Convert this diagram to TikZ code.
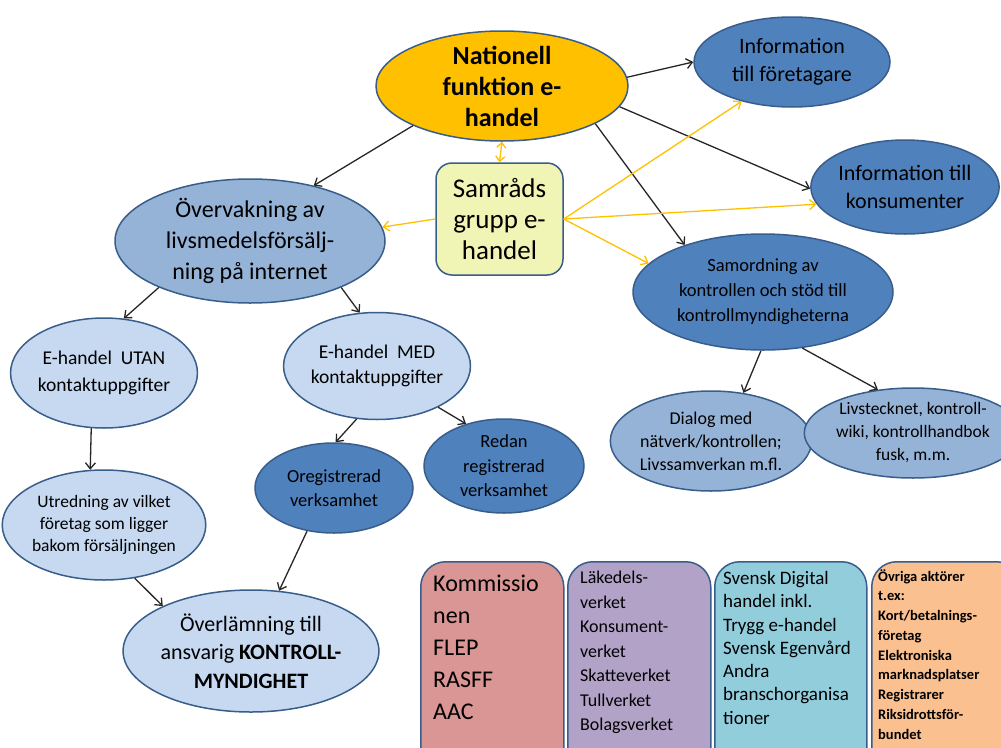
\documentclass[tikz,border=0pt]{standalone}
\usepackage{fontspec}
\setmainfont{Carlito}
\usetikzlibrary{shapes.geometric,arrows.meta}
\definecolor{orng}{HTML}{FFC000}
\definecolor{dblue}{HTML}{4F81BD}
\definecolor{mblue}{HTML}{95B3D7}
\definecolor{lblue}{HTML}{C6D9F1}
\definecolor{bord}{HTML}{385D8A}
\definecolor{pyell}{RGB}{240,244,180}
\definecolor{komm}{HTML}{D99694}
\definecolor{lila}{HTML}{B3A2C7}
\definecolor{cyan2}{HTML}{92CDDC}
\definecolor{peach}{HTML}{FAC090}
\begin{document}
\begin{tikzpicture}[x=1pt,y=-1pt,
  ell/.style={ellipse,draw=bord,line width=1.5pt,inner sep=0pt,align=center,text=black},
  con/.style={draw=black!85,line width=1.3pt,-{Straight Barb[length=6pt,width=10pt]}},
  ycon/.style={draw=orng,line width=1.3pt,-{Straight Barb[length=6pt,width=10pt]}},
  box/.style={draw=bord,line width=1.5pt,rounded corners=25pt,inner sep=0pt,anchor=north west},
  btext/.style={anchor=north west,inner sep=0pt,align=left,text=black}
]
\useasboundingbox (0,0) rectangle (1001,747);
\clip (0,0) rectangle (1001,747);

% ellipses
\node[ell,fill=orng,minimum width=252pt,minimum height=110pt] (nat) at (502,86) {};
\node[ell,fill=dblue,minimum width=196pt,minimum height=90pt,font=\fontsize{22}{28}\selectfont] (infoF) at (792,62) {Information\\till företagare};
\node[ell,fill=dblue,minimum width=188pt,minimum height=94pt,font=\fontsize{22}{28}\selectfont] (infoK) at (905,187) {Information till\\konsumenter};
\node[ell,fill=mblue,minimum width=270pt,minimum height=124pt,font=\fontsize{24}{31}\selectfont] (over) at (250,241) {Övervakning av\\livsmedelsförsälj-\\ning på internet};
\node[ell,fill=dblue,minimum width=260pt,minimum height=116pt,font=\fontsize{18.5}{25}\selectfont] (samo) at (763,292) {Samordning av\\kontrollen och stöd till\\kontrollmyndigheterna};
\node[ell,fill=lblue,minimum width=184pt,minimum height=110pt,font=\fontsize{19.5}{27}\selectfont] (utan) at (104,373) {E-handel\ \ UTAN\\kontaktuppgifter};
\node[ell,fill=lblue,minimum width=185pt,minimum height=107pt,font=\fontsize{19.5}{25}\selectfont] (med) at (377,366) {E-handel\ \ MED\\kontaktuppgifter};
\node[ell,fill=dblue,minimum width=158pt,minimum height=90pt,font=\fontsize{18.5}{24}\selectfont] (oreg) at (334,488) {Oregistrerad\\verksamhet};
\node[ell,fill=dblue,minimum width=160pt,minimum height=94pt,font=\fontsize{18.5}{24.5}\selectfont] (redan) at (504,466) {Redan\\registrerad\\verksamhet};
\node[ell,fill=lblue,minimum width=185pt,minimum height=110pt,font=\fontsize{17.5}{22}\selectfont] (utred) at (104,525) {Utredning av vilket\\företag som ligger\\bakom försäljningen};
\node[ell,fill=lblue,minimum width=232pt,minimum height=122pt,font=\fontsize{22}{28.5}\selectfont] (overl) at (251,651) {Överlämning till\\ansvarig \textbf{KONTROLL-}\\\textbf{MYNDIGHET}};
\node[ell,fill=mblue,minimum width=182pt,minimum height=100pt,font=\fontsize{18}{23}\selectfont] (dial) at (711,441) {Dialog med\\nätverk/kontrollen;\\Livssamverkan m.fl.};
\node[ell,fill=mblue,minimum width=176pt,minimum height=90pt,font=\fontsize{17.5}{23}\selectfont] (livs) at (913,433) {Livstecknet, kontroll-\\wiki, kontrollhandbok\\fusk, m.m.};

% Nationell text
\node[align=center,inner sep=0pt,font=\bfseries\fontsize{26}{31}\selectfont] (natT) at (nat.center) {Nationell\\funktion e-\\handel};

% Samrads box
\node[draw=bord,line width=1.5pt,fill=pyell,rounded corners=16pt,minimum width=127pt,minimum height=112pt,inner sep=0pt,align=center,font=\fontsize{27}{31}\selectfont] (samr) at (499.5,219) {Samråds\\grupp e-\\handel};

% bottom boxes
\node[box,fill=komm,minimum width=143pt,minimum height=230pt] (kbox) at (420,561) {};
\node[box,fill=lila,minimum width=143pt,minimum height=230pt] (lbox) at (567,561) {};
\node[box,fill=cyan2,minimum width=152pt,minimum height=230pt] (sbox) at (714,561) {};
\node[box,fill=peach,minimum width=150pt,minimum height=230pt] (obox) at (871,561) {};
\node[btext,font=\fontsize{24}{32}\selectfont] (ktext) at (433,575) {Kommissio\\nen\\FLEP\\RASFF\\AAC};
\node[btext,font=\fontsize{18}{24.5}\selectfont] (ltext) at (580,571) {Läkedels-\\verket\\Konsument-\\verket\\Skatteverket\\Tullverket\\Bolagsverket};
\node[btext,font=\fontsize{19}{23.3}\selectfont] (stext) at (723,571) {Svensk Digital\\handel inkl.\\Trygg e-handel\\Svensk Egenvård\\Andra\\branschorganisa\\tioner};
\node[btext,font=\bfseries\fontsize{14.5}{19.75}\selectfont] (otext) at (878,569) {Övriga aktörer\\t.ex:\\Kort/betalnings-\\företag\\Elektroniska\\marknadsplatser\\Registrarer\\Riksidrottsför-\\bundet};

% black connectors
\draw[con] (nat.4) -- (infoF.west);
\draw[con] (nat.-10) -- (infoK.181);
\draw[con] (nat.-22) -- (samo.149);
\draw[con] (nat.-156) -- (over.41);
\draw[con] (over.207) -- (utan.70);
\draw[con] (over.-27) -- (med.108);
\draw[con] (utan.257) -- (utred.104);
\draw[con] (med.249) -- (oreg.88);
\draw[con] (med.-34) -- (redan.132);
\draw[con] (oreg.238) -- (overl.65);
\draw[con] (utred.-60) -- (overl.153);
\draw[con] (samo.268) -- (dial.56);
\draw[con] (samo.-55) -- (livs.129);

% yellow connectors
\draw[ycon,{Straight Barb[length=5pt,width=9pt]}-{Straight Barb[length=5pt,width=9pt]}] (samr.north) -- (nat.-90);
\draw[ycon] (samr.west) -- (over.6);
\draw[ycon] (samr.east) -- (infoF.218);
\draw[ycon] (samr.east) -- (infoK.191);
\draw[ycon] (samr.east) -- (samo.166);
\end{tikzpicture}
\end{document}
